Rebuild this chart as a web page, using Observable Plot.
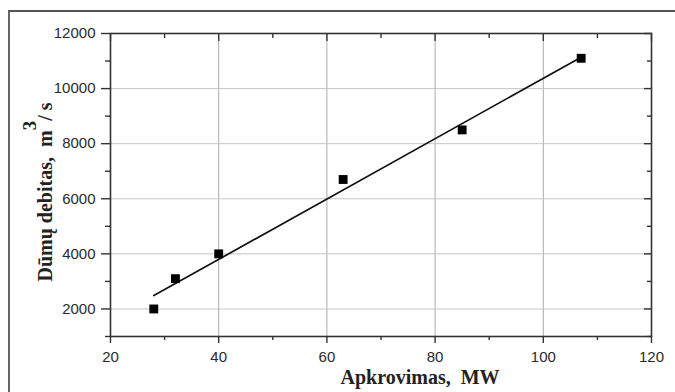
<!DOCTYPE html>
<html><head><meta charset="utf-8">
<script src="https://cdn.jsdelivr.net/npm/d3@7"></script>
<script src="https://cdn.jsdelivr.net/npm/@observablehq/plot@0.6"></script>
<style>body{margin:0;background:#fff}</style>
</head><body><div id="chart"></div>
<script>
const loadMW = [28, 32, 40, 63, 85, 107];
const flowM3s = [2000, 3100, 4000, 6700, 8500, 11100];
const xTicks = [20, 40, 60, 80, 100, 120];
const xMinor = [30, 50, 70, 90, 110];
const yTicks = [2000, 4000, 6000, 8000, 10000, 12000];
const yMinor = [1000, 3000, 5000, 7000, 9000, 11000];
const xLabel = "Apkrovimas,  MW";
const yLabelMain = "Dūmų debitas,  m";
const yLabelSup = "3";
const yLabelTail = "/ s";

const data = loadMW.map((x, i) => ({x, y: flowM3s[i]}));
const blank = () => "";
const axisColor = "#333";

const plot = Plot.plot({
  width: 675, height: 392,
  marginLeft: 110, marginRight: 24, marginTop: 33, marginBottom: 56,
  style: {fontFamily: "'Liberation Sans', Arial, sans-serif", fontSize: "15px", color: "#2a2a2a", background: "#fff"},
  x: {domain: [20, 120]},
  y: {domain: [1000, 12000]},
  marks: [
    Plot.gridX(xTicks, {stroke: "#ababab", strokeOpacity: 1}),
    Plot.gridY(yTicks, {stroke: "#c6c6c6", strokeOpacity: 1}),
    Plot.axisX(xTicks, {anchor: "bottom", tickSize: 7, tickPadding: 8, tickFormat: d3.format("d"), label: null, stroke: axisColor, strokeWidth: 1.4}),
    Plot.axisX(xMinor, {anchor: "bottom", tickSize: 4, tickFormat: blank, label: null, stroke: axisColor, strokeWidth: 1.4}),
    Plot.axisX(xTicks, {anchor: "top", tickSize: -7, tickFormat: blank, label: null, stroke: axisColor, strokeWidth: 1.4}),
    Plot.axisX(xMinor, {anchor: "top", tickSize: -4, tickFormat: blank, label: null, stroke: axisColor, strokeWidth: 1.4}),
    Plot.axisY(yTicks, {anchor: "left", tickSize: 9, tickPadding: 6, tickFormat: d3.format("d"), label: null, stroke: axisColor, strokeWidth: 1.4}),
    Plot.axisY(yMinor, {anchor: "left", tickSize: 5, tickFormat: blank, label: null, stroke: axisColor, strokeWidth: 1.4}),
    Plot.axisY(yTicks, {anchor: "right", tickSize: -8, tickFormat: blank, label: null, stroke: axisColor, strokeWidth: 1.4}),
    Plot.axisY(yMinor, {anchor: "right", tickSize: -5, tickFormat: blank, label: null, stroke: axisColor, strokeWidth: 1.4}),
    Plot.frame({stroke: axisColor, strokeWidth: 1.6}),
    Plot.linearRegressionY(data, {x: "x", y: "y", ci: 0, stroke: "#111", strokeWidth: 1.7}),
    Plot.dot(data, {x: "x", y: "y", symbol: "square", r: 5, fill: "#000", stroke: "none"})
  ]
});

const svg = d3.select(plot);
svg.append("path")
  .attr("d", "M9,392V11H675")
  .attr("fill", "none").attr("stroke", "#555").attr("stroke-width", 1.8);

svg.append("text")
  .attr("x", 420).attr("y", 384)
  .attr("text-anchor", "middle")
  .style("white-space", "pre")
  .style("font", "bold 20px 'Liberation Serif', 'Times New Roman', serif")
  .attr("fill", "#222")
  .text(xLabel);

const yl = svg.append("text")
  .attr("transform", "translate(52,192) rotate(-90)")
  .attr("text-anchor", "middle")
  .style("white-space", "pre")
  .style("font", "bold 20px 'Liberation Serif', 'Times New Roman', serif")
  .attr("fill", "#222");
yl.append("tspan").text(yLabelMain);
yl.append("tspan").attr("dy", -16).style("font-size", "19px").text(yLabelSup);
yl.append("tspan").attr("dy", 16).text(yLabelTail);

document.getElementById("chart").appendChild(plot);
</script>
</body></html>
